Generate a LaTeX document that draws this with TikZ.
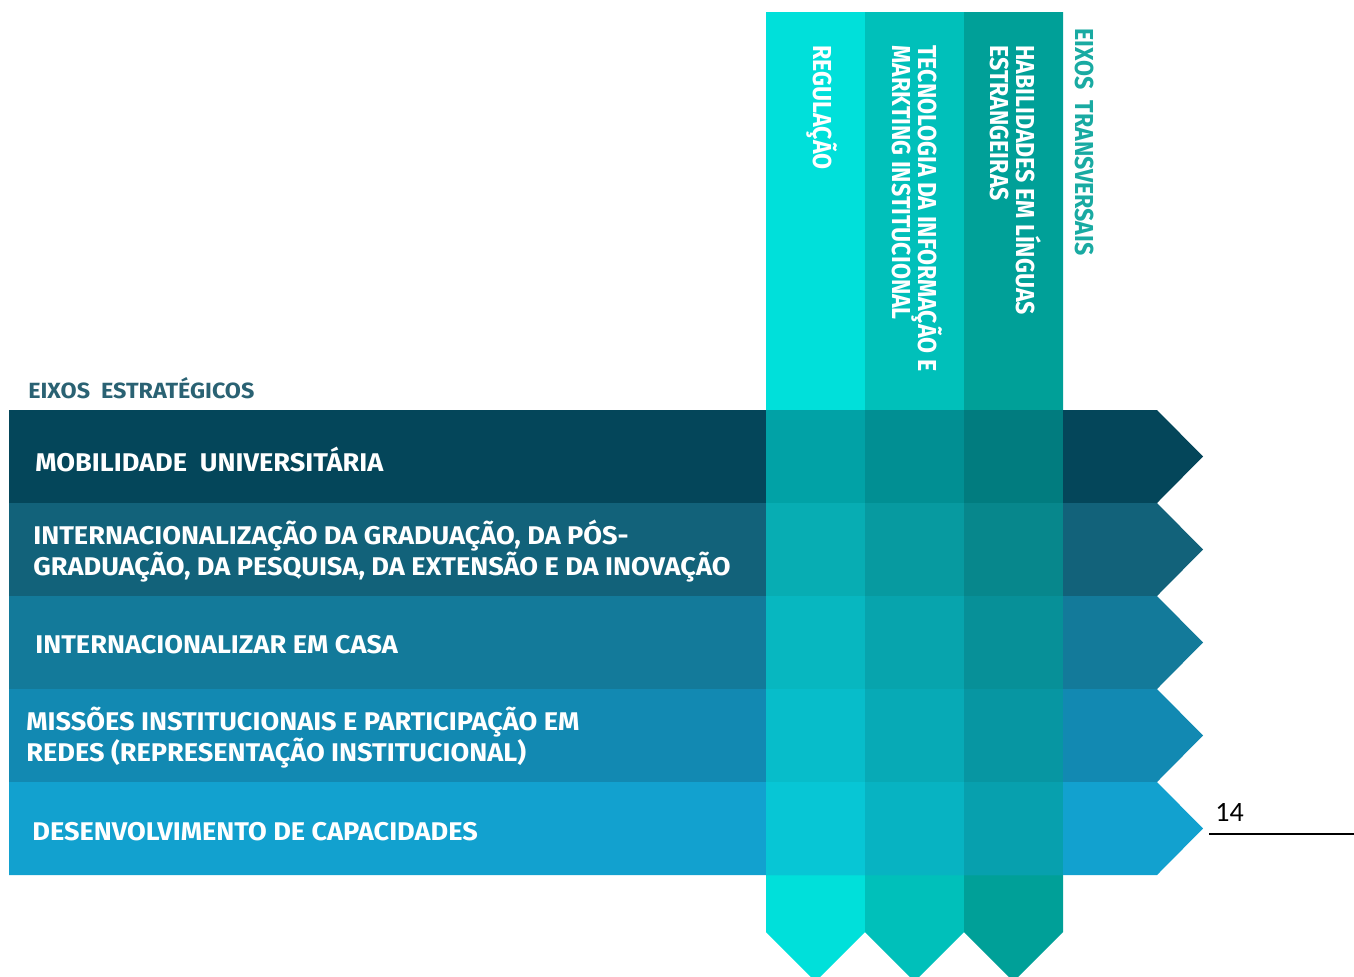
\documentclass[tikz,border=0pt]{standalone}
\usepackage{fontspec}
\setmainfont{Fira Sans}
\newfontfamily\eixofont{Fira Sans}[FakeStretch=1.06]
\newfontfamily\transfont{Fira Sans}[FakeStretch=0.89]
\newfontfamily\pagefont{Carlito}
\definecolor{eixo1}{RGB}{4,70,90}
\definecolor{eixo2}{RGB}{18,98,122}
\definecolor{eixo3}{RGB}{19,122,154}
\definecolor{eixo4}{RGB}{18,137,178}
\definecolor{eixo5}{RGB}{18,161,207}
\definecolor{trans1}{RGB}{0,224,218}
\definecolor{trans2}{RGB}{0,192,186}
\definecolor{trans3}{RGB}{0,160,152}
\colorlet{titlecol}{eixo1!85!white}
\colorlet{transtitle}{trans3!90!white}

\begin{document}
\begin{tikzpicture} [x=0.5pt, y=-0.5pt, %
  eixolabel/.style={font=\eixofont\bfseries\fontsize{12.8}{15.5}\selectfont, text=white, %
    inner sep=0pt, anchor=base west, align=left}, %
  translabel/.style={font=\transfont\bfseries\fontsize{13}{13}\selectfont, text=white, %
    inner sep=0pt, anchor=base west, align=left, rotate=-90}, %
  heading/.style={font=\eixofont\bfseries\fontsize{11}{12}\selectfont, inner sep=0pt, anchor=base west}] %
\useasboundingbox (0,0) rectangle (1354,976); %
\clip (0,0) rectangle (1354,976); %
% transversal columns, opaque first
\foreach \i/\ccol in {0/trans1,1/trans2,2/trans3} { %
  \pgfmathsetmacro\xl{766+99*\i} %
  \fill[\ccol] (\xl,12) -- (\xl+99,12) -- (\xl+99,932) -- (\xl+49.5,981.5) -- (\xl,932) -- cycle; %
} %
% strategic bands
\foreach \row/\bcol in {0/eixo1,1/eixo2,2/eixo3,3/eixo4,4/eixo5} { %
  \pgfmathsetmacro\yt{410+93*\row} %
  \fill[\bcol] (9,\yt) -- (1157,\yt) -- (1203,\yt+46.5) -- (1157,\yt+93) -- (9,\yt+93) -- cycle; %
} %
% columns again, see-through over the bands
\foreach \i/\ccol in {0/trans1,1/trans2,2/trans3} { %
  \pgfmathsetmacro\xl{766+99*\i} %
  \fill[\ccol, fill opacity=0.6] (\xl,410) rectangle (\xl+99,875); %
} %
 %
\node[heading, text=titlecol] (estrat) at (28,398) {EIXOS\ \ ESTRATÉGICOS}; %
\node[eixolabel] (mobilidade) at (35,471.5) {MOBILIDADE\ \ UNIVERSITÁRIA}; %
\node[eixolabel] (graduacao) at (33,575.5) {INTERNACIONALIZAÇÃO DA GRADUAÇÃO, DA PÓS-\\GRADUAÇÃO, DA PESQUISA, DA EXTENSÃO E DA INOVAÇÃO}; %
\node[eixolabel] (emcasa) at (35,653.5) {INTERNACIONALIZAR EM CASA}; %
\node[eixolabel] (missoes) at (26,761.5) {MISSÕES INSTITUCIONAIS E PARTICIPAÇÃO EM\\REDES (REPRESENTAÇÃO INSTITUCIONAL)}; %
\node[eixolabel] (capacidades) at (32,840.5) {DESENVOLVIMENTO DE CAPACIDADES}; %
 %
\node[translabel] (regulacao) at (813,45) {REGULAÇÃO}; %
\node[translabel] (tecnologia) at (892,45) {TECNOLOGIA DA INFORMAÇÃO E\\MARKTING INSTITUCIONAL}; %
\node[translabel] (linguas) at (990,45) {HABILIDADES EM LÍNGUAS\\ESTRANGEIRAS}; %
\node[translabel, text=transtitle] (transv) at (1075,28) {EIXOS\ \ TRANSVERSAIS}; %
 %
\node[font=\pagefont\fontsize{14}{16}\selectfont, inner sep=0pt, anchor=base west] (pagina) at (1215,821) {14}; %
\coordinate (rule-a) at (1209,834); %
\coordinate (rule-b) at (1354,834); %
\draw[line width=0.6pt] (rule-a) -- (rule-b); %
\end{tikzpicture}
\end{document}
